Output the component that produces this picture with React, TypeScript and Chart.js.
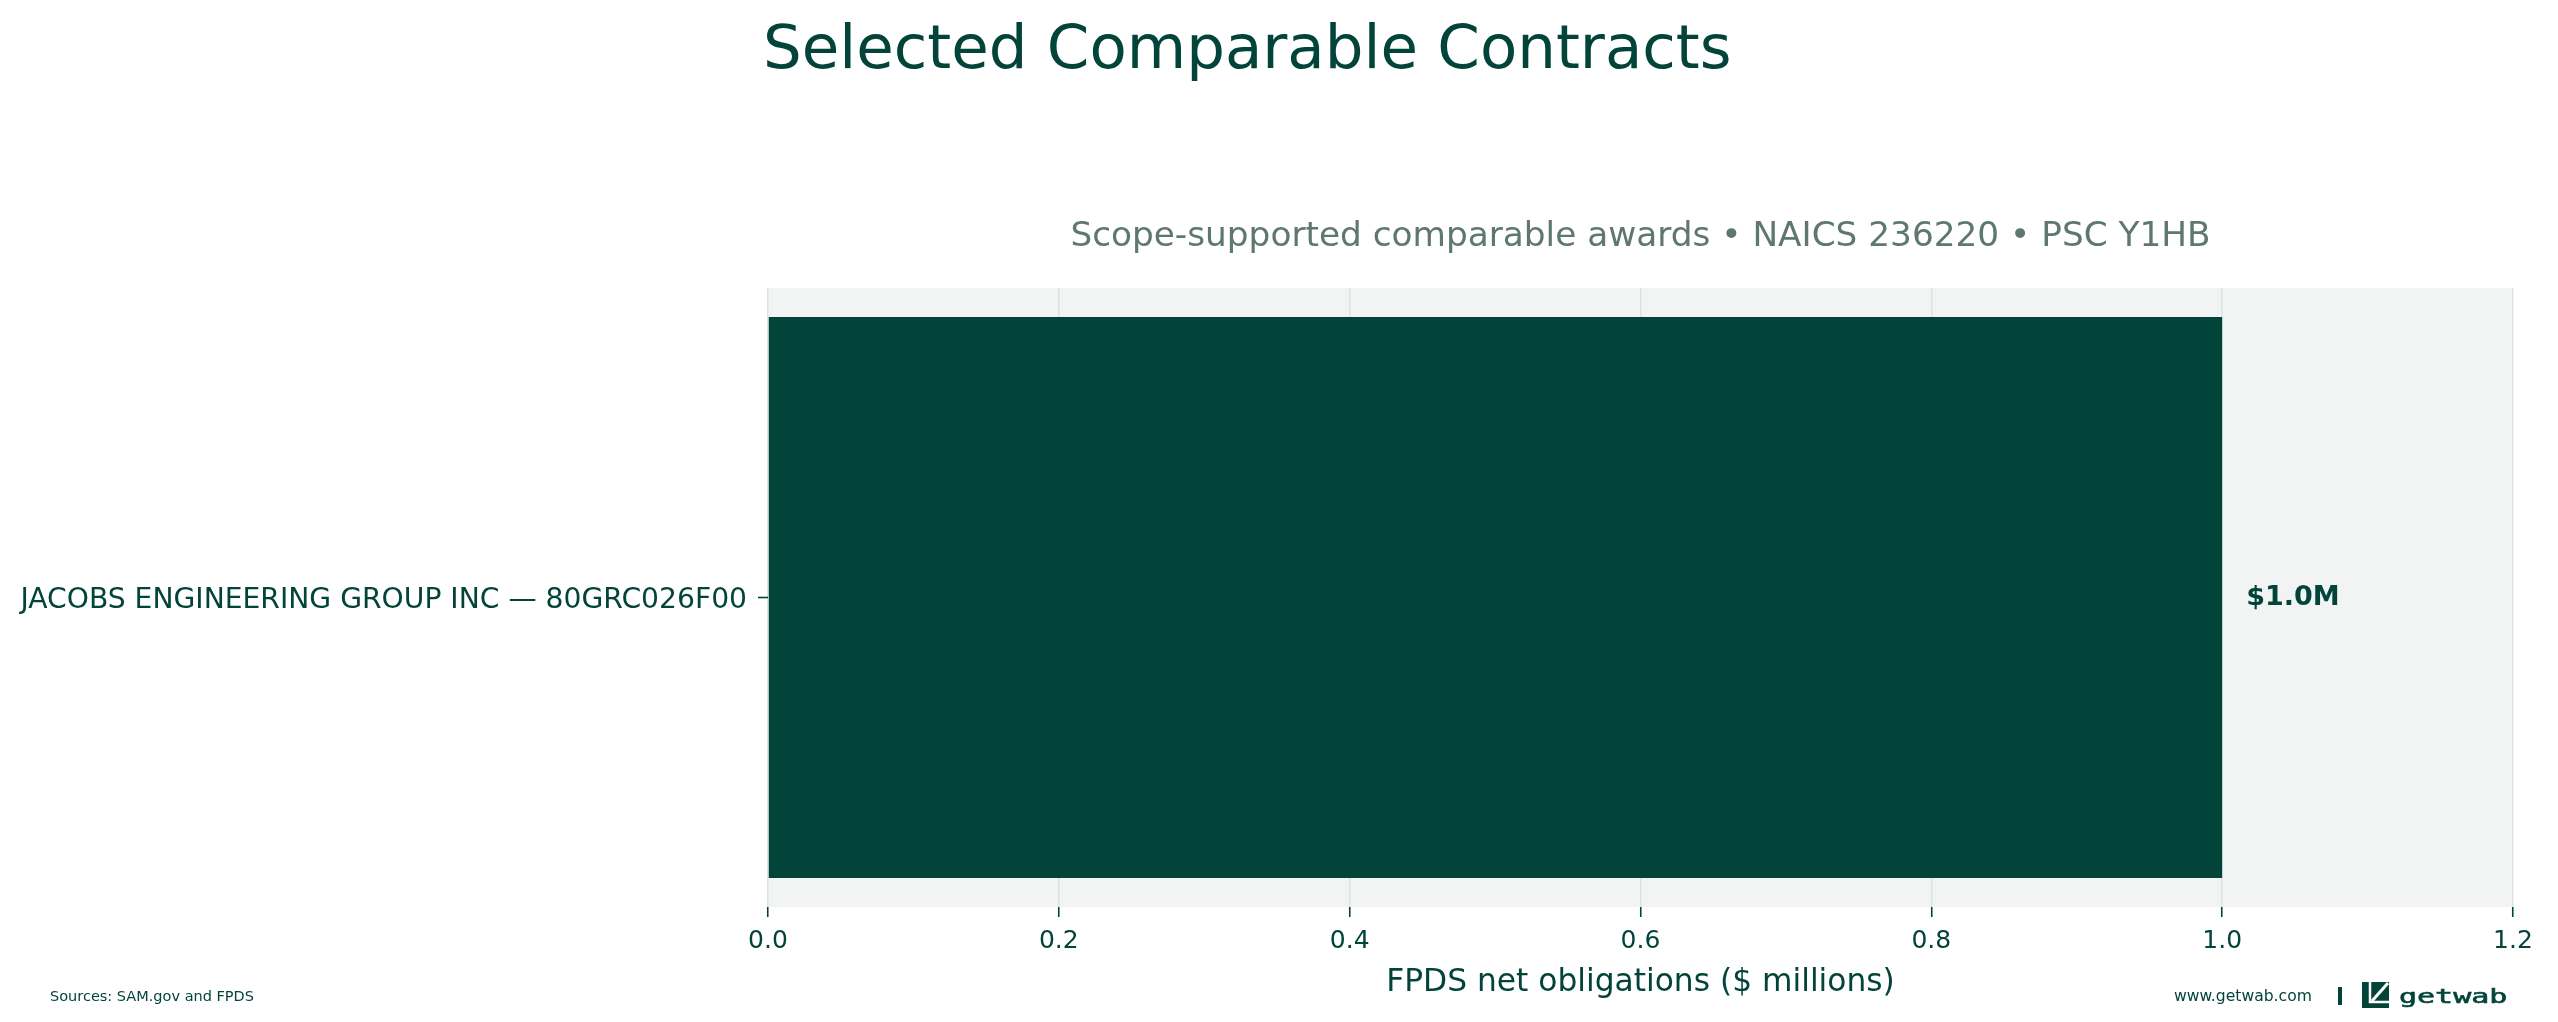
import React, { useEffect, useRef } from "react";
import { Chart, registerables } from "chart.js";

Chart.register(...registerables);

// ---- data ----
const categories = ["JACOBS ENGINEERING GROUP INC — 80GRC026F00"];
const obligations = [1.0];
const valueLabels = ["$1.0M"];
const xTicks = [0, 0.2, 0.4, 0.6, 0.8, 1.0, 1.2];
const titleText = "Selected Comparable Contracts";
const subtitleText = "Scope-supported comparable awards • NAICS 236220 • PSC Y1HB";
const xAxisTitle = "FPDS net obligations ($ millions)";
const sourceText = "Sources: SAM.gov and FPDS";
const siteText = "www.getwab.com";
const brandText = "getwab";

// ---- style ----
const W = 2558;
const H = 1022;
const FONT = "'DejaVu Sans', 'Liberation Sans', sans-serif";
const DARK = "#03443a";
const BAR = "#02443a";
const PLOT_BG = "#f1f4f3";
const GRID = "#dbe4e1";
const SUB = "#5e786f";

const decorPlugin = {
  id: "decor",
  beforeDraw(chart: any) {
    const { ctx, chartArea } = chart;
    ctx.save();
    ctx.fillStyle = "#ffffff";
    ctx.fillRect(0, 0, chart.width, chart.height);
    ctx.fillStyle = PLOT_BG;
    ctx.fillRect(chartArea.left, chartArea.top, chartArea.right - chartArea.left, chartArea.bottom - chartArea.top);
    ctx.restore();
  },
  afterDatasetsDraw(chart: any) {
    const { ctx } = chart;
    const meta = chart.getDatasetMeta(0);
    const xScale = chart.scales.x;
    ctx.save();
    ctx.fillStyle = DARK;
    ctx.font = `bold 27px ${FONT}`;
    ctx.textAlign = "left";
    ctx.textBaseline = "middle";
    meta.data.forEach((el: any, i: number) => {
      const x = xScale.getPixelForValue(obligations[i]) + 24;
      ctx.fillText(valueLabels[i], x, el.y);
    });
    ctx.restore();
  },
  afterDraw(chart: any) {
    const { ctx, chartArea } = chart;
    ctx.save();
    // title
    ctx.fillStyle = DARK;
    ctx.textAlign = "left";
    ctx.textBaseline = "alphabetic";
    ctx.font = `61px ${FONT}`;
    ctx.fillText(titleText, 763, 68);
    // subtitle
    ctx.fillStyle = SUB;
    ctx.textAlign = "center";
    ctx.font = `34.3px ${FONT}`;
    ctx.fillText(subtitleText, (chartArea.left + chartArea.right) / 2, 246);
    // footer left
    ctx.fillStyle = DARK;
    ctx.textAlign = "left";
    ctx.font = `14.5px ${FONT}`;
    ctx.fillText(sourceText, 50, 1001);
    // footer right
    ctx.font = `15.6px ${FONT}`;
    ctx.fillText(siteText, 2174, 1001);
    ctx.fillRect(2338, 987, 4, 18);
    // logo mark
    const lx = 2362, ly = 982, ls = 27;
    ctx.fillRect(lx, ly, ls, 26);
    ctx.strokeStyle = "#ffffff";
    ctx.lineWidth = 3;
    ctx.beginPath();
    ctx.moveTo(lx + ls - 1, ly + 1);
    ctx.lineTo(lx + 10, ly + 19);
    ctx.stroke();
    ctx.lineWidth = 2.5;
    ctx.beginPath();
    ctx.moveTo(lx + 8, ly);
    ctx.lineTo(lx + 8, ly + 20);
    ctx.lineTo(lx + ls, ly + 20);
    ctx.stroke();
    // brand word
    ctx.fillStyle = DARK;
    ctx.strokeStyle = DARK;
    ctx.lineWidth = 0.6;
    ctx.translate(2399, 1003);
    ctx.scale(1.5, 1);
    ctx.font = `20px 'DejaVu Sans Mono', monospace`;
    ctx.fillText(brandText, 0, 0);
    ctx.strokeText(brandText, 0, 0);
    ctx.restore();
  },
};

export default function App() {
  const ref = useRef<HTMLCanvasElement | null>(null);

  useEffect(() => {
    document.body.style.margin = "0";
    const canvas = ref.current;
    if (!canvas) return;
    const chart = new Chart(canvas, {
      type: "bar",
      data: {
        labels: categories,
        datasets: [
          {
            data: obligations,
            backgroundColor: BAR,
            borderWidth: 0,
            barPercentage: 0.906,
            categoryPercentage: 1,
          },
        ],
      },
      options: {
        indexAxis: "y",
        responsive: false,
        devicePixelRatio: 1,
        animation: false,
        layout: { padding: { top: 288, right: 45, bottom: 0, left: 0 } },
        plugins: {
          legend: { display: false },
          tooltip: { enabled: false },
          title: { display: false },
        },
        scales: {
          x: {
            type: "linear",
            min: 0,
            max: 1.2,
            afterFit(scale: any) {
              scale.height = 115;
            },
            afterBuildTicks(scale: any) {
              scale.ticks = xTicks.map((v) => ({ value: v }));
            },
            ticks: {
              color: DARK,
              font: { family: FONT, size: 25 },
              padding: 9,
              maxRotation: 0,
              callback: (v: any) => Number(v).toFixed(1),
            },
            grid: {
              color: GRID,
              lineWidth: 1.5,
              drawTicks: true,
              tickLength: 10,
              tickColor: DARK,
              tickWidth: 1.6,
            },
            border: { display: false },
            title: {
              display: true,
              text: xAxisTitle,
              color: DARK,
              font: { family: FONT, size: 31.3, lineHeight: 1 },
              padding: { top: 0, bottom: 23 },
            },
          },
          y: {
            type: "category",
            afterFit(scale: any) {
              scale.width = 768;
            },
            ticks: {
              color: DARK,
              font: { family: FONT, size: 28.2 },
              padding: 11,
              labelOffset: 3,
            },
            grid: {
              offset: false,
              drawOnChartArea: false,
              drawTicks: true,
              tickLength: 10,
              tickColor: DARK,
              tickWidth: 1.6,
            },
            border: { display: false },
          },
        },
      },
      plugins: [decorPlugin],
    } as any);
    return () => chart.destroy();
  }, []);

  return (
    <div style={{ width: W, height: H, position: "relative" }}>
      <canvas ref={ref} width={W} height={H} style={{ width: W, height: H, display: "block" }} />
    </div>
  );
}
